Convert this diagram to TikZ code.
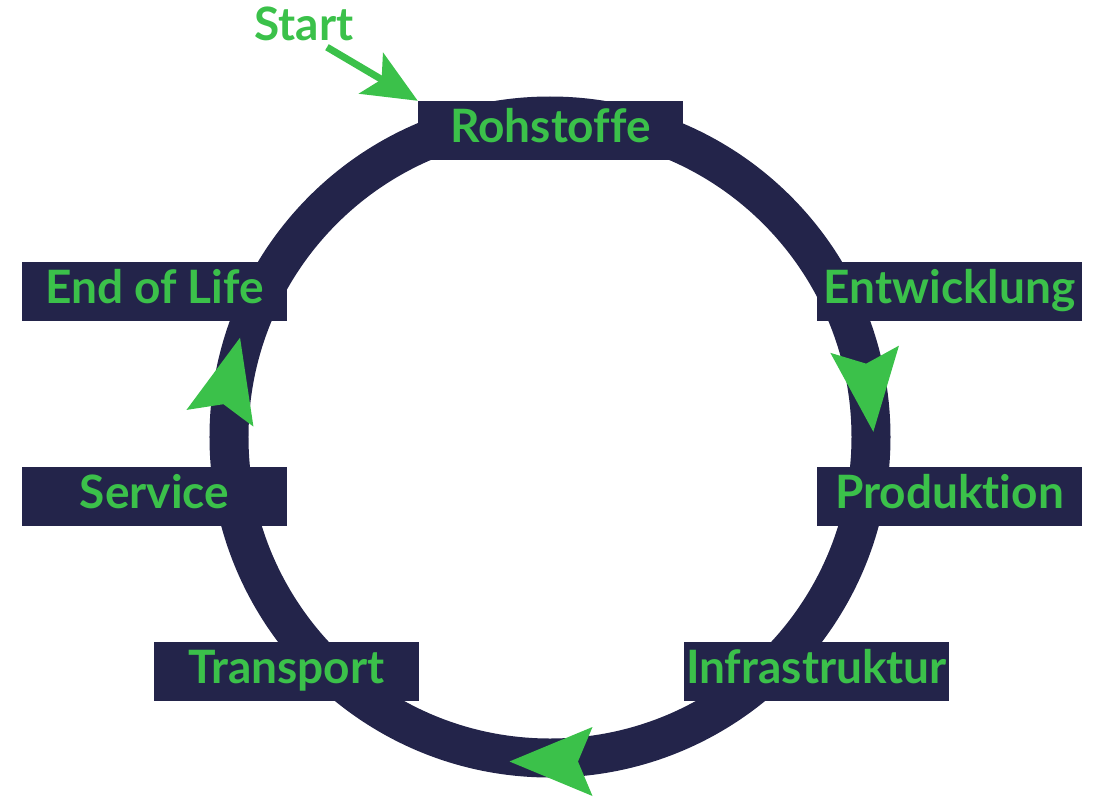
\documentclass[tikz,border=0pt]{standalone}
\usepackage{fontspec}
\setmainfont{Lato}[Ligatures={NoCommon}]
\usepackage{tikz}
\usetikzlibrary{arrows.meta}
\definecolor{navy}{HTML}{23244A}
\definecolor{leaf}{HTML}{3BC14A}
\tikzset{
    every node/.style={font=\fontsize{46}{46}\selectfont\bfseries, text=leaf}
}
\tikzset{
    phase/.style={fill=navy, minimum width=265pt, minimum height=59pt,
    	inner sep=0pt, text height=32pt, text depth=8pt}
}
\tikzset{
	ringtip/.pic={\fill[leaf] (41.5pt, 0pt) -- (-41.5pt, 34.5pt) -- (-27pt, 0pt)
		-- (-41.5pt, -34.5pt) -- cycle;}
}

\begin{document}
\begin{tikzpicture}[x=1pt, y=1pt]
	\useasboundingbox (-550, -359) rectangle (544, 437);
	\coordinate (hub) at (0, 0);
	\draw [navy, line width=39pt] (hub) circle (321pt);

	\node (rohstoffe) [phase] at (0.5, 306.5) {Rohstoffe};
	\node (entwicklung) [phase] at (399.5, 145.5) {Entwicklung};
	\node (produktion) [phase] at (399.5, -59) {Produktion};
	\node (infrastruktur) [phase] at (266.5, -234.5) {Infrastruktur};
	\node (transport) [phase] at (-263.5, -234.5) {Transport};
	\node (service) [phase] at (-395.5, -59) {Service};
	\node (endoflife) [phase] at (-395.5, 145.5) {End of Life};

	\node (start) [inner sep=6pt] at (-246, 413) {Start};
	\draw [leaf, line width=7pt, -{Stealth[length=54pt, width=47pt, inset=12pt]}]
		([xshift=23pt]start.south) -- (rohstoffe.north west);

	\pic [rotate=-84] at (319, 46.5) {ringtip};
	\pic [rotate=180] at (1, -324.5) {ringtip};
	\pic [rotate=76] at (-320, 59) {ringtip};
\end{tikzpicture}
\end{document}
